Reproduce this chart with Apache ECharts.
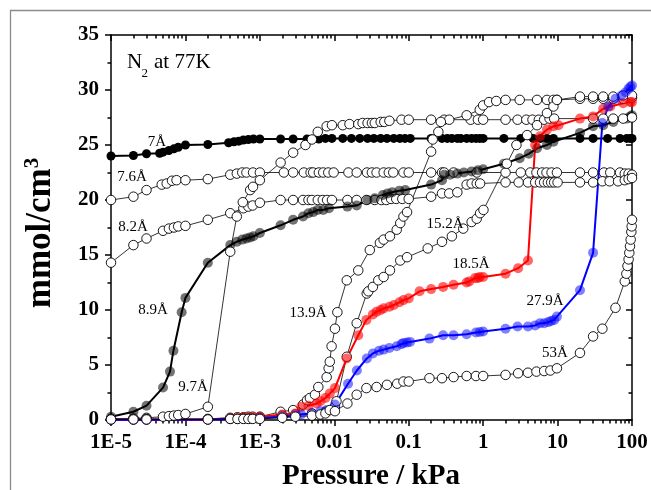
<!DOCTYPE html>
<html>
<head>
<meta charset="utf-8">
<script src="https://cdn.jsdelivr.net/npm/echarts@6/dist/echarts.min.js"></script>
<style>
html,body{margin:0;padding:0;background:#fff;}
#chart{width:651px;height:490px;}
</style>
</head>
<body>
<div id="chart"></div>
<script>
// N2 isotherms at 77 K for pores of different width: [pressure kPa, uptake mmol/cm3]
const pore7A = [[1e-5,24.0],[2e-5,24.05],[3e-5,24.2],[4.5e-5,24.25],[5e-5,24.35],[6e-5,24.5],[7e-5,24.65],[8e-5,24.8],[1e-4,25.0],[2e-4,25.05],[3.8e-4,25.2],[4.5e-4,25.3],[5.2e-4,25.35],[6e-4,25.45],[7e-4,25.5],[8.2e-4,25.55],[1e-3,25.55],[1.9e-3,25.55],[2.8e-3,25.55],[4.3e-3,25.55],[6.2e-3,25.55],[7.6e-3,25.6],[9.3e-3,25.6],[0.013,25.6],[0.017,25.6],[0.022,25.6],[0.028,25.6],[0.034,25.6],[0.042,25.6],[0.051,25.6],[0.063,25.6],[0.076,25.6],[0.089,25.6],[0.105,25.6],[0.2,25.6],[0.28,25.6],[0.33,25.6],[0.38,25.6],[0.45,25.6],[0.5,25.6],[0.6,25.6],[0.7,25.6],[0.8,25.6],[0.9,25.6],[1.0,25.6],[1.9,25.6],[3.2,25.6],[4.7,25.6],[5.9,25.6],[7.2,25.6],[8.8,25.6],[20,25.6],[30,25.6],[47,25.6],[69,25.6],[85,25.6],[95,25.6],[100,25.6]];

const pore76A = [[1e-5,20.0],[2e-5,20.3],[3e-5,20.9],[4.8e-5,21.4],[5.6e-5,21.5],[6.6e-5,21.75],[7.6e-5,21.8],[1e-4,21.8],[2e-4,21.9],[4e-4,22.3],[4.9e-4,22.4],[5.8e-4,22.5],[6.6e-4,22.5],[8.1e-4,22.5],[1e-3,22.5],[2.1e-3,22.5],[2.8e-3,22.5],[3.9e-3,22.5],[4.8e-3,22.5],[5.2e-3,22.5],[6.2e-3,22.5],[7.1e-3,22.5],[8.3e-3,22.5],[9.8e-3,22.5],[0.0155,22.5],[0.02,22.5],[0.0275,22.5],[0.032,22.5],[0.037,22.5],[0.046,22.5],[0.054,22.5],[0.062,22.5],[0.085,22.5],[0.1,22.5],[0.2,22.5],[0.28,22.5],[0.3,22.5],[0.4,22.5],[0.82,22.5],[2.0,22.5],[3.2,22.5],[4.3,22.5],[5.2,22.5],[6.2,22.5],[7.1,22.5],[8.3,22.5],[9.8,22.5],[20,22.5],[30,22.5],[42,22.5],[51,22.5],[69,22.5],[80,22.4],[90,22.4],[100,22.3]];

const pore82A = [[1e-5,14.3],[2e-5,15.9],[3e-5,16.5],[5e-5,17.2],[6e-5,17.4],[7e-5,17.5],[8e-5,17.6],[1e-4,17.65],[2e-4,18.2],[4e-4,18.8],[6e-4,19.25],[7e-4,19.4],[8e-4,19.5],[1e-3,19.75],[1.9e-3,20.0],[2.8e-3,20.0],[3.8e-3,20.0],[4.5e-3,20.0],[5e-3,20.0],[6e-3,20.0],[7e-3,20.0],[8e-3,20.0],[9.3e-3,20.0],[0.015,20.0],[0.02,20.0],[0.027,20.0],[0.035,20.0],[0.043,20.0],[0.05,20.0],[0.058,20.1],[0.068,20.1],[0.082,20.1],[0.1,20.1],[0.2,20.3],[0.28,20.6],[0.35,20.6],[0.45,20.7],[0.6,21.4],[0.7,21.5],[0.82,21.5],[0.91,21.5],[2.0,21.6],[3.0,21.6],[4.0,21.6],[5.0,21.6],[5.8,21.6],[6.6,21.6],[7.4,21.6],[8.2,21.6],[9.0,21.6],[10,21.6],[20,21.6],[30,21.6],[40,21.7],[50,21.7],[65,21.7],[80,21.8],[90,21.9],[100,22.0]];

const pore89A = [[1e-5,0.3],[2e-5,0.75],[3e-5,1.3],[5e-5,2.95],[6.2e-5,4.4],[6.9e-5,6.3],[8.9e-5,9.8],[1e-4,11.1],[2e-4,14.3],[4e-4,15.9],[4.9e-4,16.2],[5.8e-4,16.4],[6.6e-4,16.5],[7.4e-4,16.6],[8.2e-4,16.7],[1e-3,17.0],[1.9e-3,17.7],[2.8e-3,18.2],[3.8e-3,18.5],[4.5e-3,18.8],[5.2e-3,18.9],[6e-3,19.1],[7.1e-3,19.1],[8.5e-3,19.25],[0.015,19.4],[0.02,19.5],[0.028,20.0],[0.035,20.15],[0.045,20.45],[0.052,20.6],[0.06,20.7],[0.075,20.85],[0.09,20.9],[0.2,21.4],[0.28,21.8],[0.3,22.3],[0.36,22.3],[0.45,22.4],[0.55,22.5],[0.7,22.6],[0.85,22.7],[1.0,22.8],[1.9,23.3],[3.1,23.8],[4.1,24.2],[5.3,24.7],[7.2,25.0],[8.8,25.3],[20,26.1],[30,26.7],[41,26.8],[56,27.1],[85,27.4],[95,27.6],[100,27.7]];

const pore97A = [[1e-5,0.1],[2e-5,0.15],[3e-5,0.2],[5e-5,0.3],[6e-5,0.35],[7e-5,0.4],[8e-5,0.45],[1e-4,0.55],[2e-4,1.2],[4e-4,15.3],[4.9e-4,18.5],[5.9e-4,19.8],[7.4e-4,20.9],[8.1e-4,21.2],[1e-3,21.8],[1.9e-3,23.4],[2.8e-3,24.3],[4.1e-3,25.0],[5e-3,25.5],[6e-3,26.2],[7.9e-3,26.7],[9.3e-3,26.8],[0.013,26.8],[0.016,26.9],[0.021,26.9],[0.024,27.0],[0.028,27.0],[0.032,27.0],[0.035,27.0],[0.042,27.1],[0.047,27.1],[0.055,27.2],[0.08,27.3],[0.1,27.3],[0.2,27.3],[0.3,27.3],[0.35,27.3],[0.68,27.3],[0.85,27.3],[1.0,27.3],[2.0,27.3],[2.9,27.3],[3.8,27.3],[4.6,27.3],[5.6,27.3],[6.6,27.3],[7.8,27.4],[9.0,27.4],[30,27.4],[41,27.4],[56,27.4],[76,27.4],[100,27.5]];

const pore139A = [[1e-5,0.1],[2e-5,0.1],[3e-5,0.1],[2e-4,0.1],[4e-4,0.2],[5e-4,0.25],[6e-4,0.25],[7e-4,0.3],[8e-4,0.3],[1e-3,0.3],[1.9e-3,0.75],[2.8e-3,0.9],[3.8e-3,1.4],[4.3e-3,1.8],[4.7e-3,2.0],[5.5e-3,2.3],[6.1e-3,3.0],[7.9e-3,3.9],[8.4e-3,4.7],[8.7e-3,5.3],[9.2e-3,6.7],[0.0102,8.3],[0.011,9.8],[0.0147,12.7],[0.021,13.6],[0.03,15.45],[0.041,16.1],[0.046,16.4],[0.056,16.7],[0.069,17.3],[0.077,17.9],[0.085,18.5],[0.095,18.9],[0.2,24.4],[0.21,25.5],[0.25,26.2],[0.27,27.1],[0.6,27.7],[0.9,28.2],[1.0,28.6],[1.2,28.9],[1.5,29.0],[2.0,29.1],[3.1,29.1],[5.3,29.1],[7.2,29.1],[8.8,29.1],[9.8,29.1],[20,29.2],[30,29.2],[41,29.2],[56,29.2],[76,29.2],[100,29.3]];

const pore152A = [[1e-5,0.05],[2e-5,0.05],[3e-5,0.05],[2e-4,0.05],[4e-4,0.1],[5e-4,0.1],[6e-4,0.15],[7e-4,0.15],[8e-4,0.15],[1e-3,0.2],[2e-3,0.4],[3e-3,0.5],[5e-3,0.6],[7.6e-3,0.75],[0.0102,1.2],[0.0107,1.7],[0.0147,5.75],[0.02,8.8],[0.0273,11.5],[0.0287,11.7],[0.033,12.1],[0.039,12.7],[0.046,13.0],[0.056,13.6],[0.077,14.5],[0.095,14.8],[0.18,15.6],[0.28,16.2],[0.38,16.7],[0.54,17.4],[0.7,18.0],[0.82,18.3],[0.91,18.8],[1.01,19.1],[2.08,23.3],[2.8,25.0],[3.9,25.9],[5.3,26.8],[7.2,27.9],[8.8,28.5],[9.8,29.1],[20,29.4],[30,29.4],[41,29.4],[56,29.4],[76,29.5],[100,29.5]];

const pore185A = [[1e-5,0.05],[2e-5,0.05],[3e-5,0.05],[2e-4,0.05],[4e-4,0.15],[5e-4,0.2],[6e-4,0.2],[7e-4,0.25],[8e-4,0.25],[1e-3,0.3],[2e-3,0.5],[3e-3,0.6],[3.6e-3,1.2],[4.5e-3,1.3],[5.8e-3,1.5],[6.5e-3,1.7],[7.6e-3,2.0],[8.7e-3,2.4],[0.0102,2.9],[0.0147,5.6],[0.021,7.7],[0.027,9.1],[0.033,9.6],[0.037,9.85],[0.042,10.0],[0.046,10.15],[0.055,10.3],[0.063,10.45],[0.075,10.7],[0.085,10.9],[0.1,11.06],[0.14,11.7],[0.2,11.9],[0.29,12.1],[0.4,12.3],[0.6,12.5],[0.65,12.6],[0.78,12.9],[0.85,12.9],[0.9,13.0],[1.0,13.0],[2.0,13.3],[2.95,13.8],[4.0,14.5],[5.0,25.0],[5.8,25.8],[7.2,26.4],[8.8,26.7],[10.3,26.8],[20,27.4],[30,27.6],[41,28.3],[51,28.5],[76,28.8],[95,28.9],[100,28.9]];

const pore279A = [[1e-5,0.02],[2e-5,0.02],[3e-5,0.02],[2e-4,0.05],[4e-4,0.1],[5e-4,0.1],[6e-4,0.1],[7e-4,0.12],[8e-4,0.12],[1e-3,0.15],[2e-3,0.3],[3e-3,0.4],[3.6e-3,0.5],[5e-3,0.6],[6.5e-3,0.8],[7.9e-3,0.9],[0.0102,1.4],[0.0153,3.3],[0.0201,4.5],[0.0274,5.6],[0.033,6.05],[0.04,6.3],[0.046,6.4],[0.055,6.55],[0.069,6.7],[0.08,6.9],[0.085,7.0],[0.095,7.05],[0.104,7.1],[0.19,7.4],[0.29,7.7],[0.4,7.7],[0.6,7.8],[0.8,7.95],[0.9,8.0],[1.0,8.05],[2.0,8.3],[2.9,8.5],[4.0,8.5],[5.0,8.6],[5.8,8.8],[6.6,8.8],[7.5,8.9],[8.2,9.0],[9.0,9.1],[9.8,9.4],[20,11.8],[30,15.2],[40,27.0],[48,28.5],[60,29.2],[72,29.5],[82,29.8],[90,30.1],[95,30.3],[100,30.4]];

const pore53A = [[1e-5,0.05],[2e-5,0.05],[3e-5,0.05],[2e-4,0.05],[4e-4,0.1],[5e-4,0.1],[6e-4,0.1],[7e-4,0.1],[8e-4,0.1],[1e-3,0.1],[2e-3,0.2],[3e-3,0.3],[5e-3,0.4],[6.5e-3,0.5],[7.6e-3,0.6],[8.7e-3,0.9],[0.0102,0.8],[0.015,1.5],[0.02,2.3],[0.027,2.9],[0.037,3.0],[0.051,3.2],[0.07,3.3],[0.085,3.5],[0.1,3.5],[0.19,3.8],[0.28,3.8],[0.4,3.9],[0.6,4.0],[0.8,4.0],[1.0,4.0],[2.0,4.1],[2.95,4.25],[4.0,4.3],[5.2,4.4],[6.6,4.45],[8.0,4.5],[9.8,4.7],[20,6.1],[30,7.6],[40,8.3],[60,10.2],[80,12.6],[84,13.3],[87,14.0],[90,14.6],[92,15.2],[94,15.8],[96,16.4],[98,17.1],[99,17.6],[100,18.2]];

// axis ticks and labels
const xTickLabels = ['1E-5', '1E-4', '1E-3', '0.01', '0.1', '1', '10', '100'];
const yTicks = [0, 5, 10, 15, 20, 25, 30, 35];

const SERIF = "'Liberation Serif', 'Times New Roman', serif";

const xMinorTicks = [];
for (let e = -5; e < 2; e++) {
  for (let k = 2; k <= 9; k++) xMinorTicks.push(+(k * Math.pow(10, e)).toPrecision(3));
}

const chart = echarts.init(document.getElementById('chart'), null, { renderer: 'canvas' });

const black = { color: '#000', width: 1.5 };

function logAxis(position, opts) {
  return Object.assign({
    type: 'log', logBase: 10, min: 1e-5, max: 100, splitNumber: 7,
    position: position,
    axisLine: { show: false, onZero: false, lineStyle: black },
    axisTick: { show: true, lineStyle: black },
    axisLabel: { show: false },
    splitLine: { show: false },
    minorTick: { show: false },
    minorSplitLine: { show: false }
  }, opts);
}

function valueAxis(position, opts) {
  return Object.assign({
    type: 'value', min: yTicks[0], max: yTicks[yTicks.length - 1], interval: 5,
    position: position,
    axisLine: { show: true, onZero: false, lineStyle: black },
    axisTick: { show: true, length: 6, lineStyle: black },
    minorTick: { show: true, splitNumber: 2, length: 3.5, lineStyle: black },
    splitLine: { show: false },
    minorSplitLine: { show: false },
    axisLabel: { show: false }
  }, opts);
}

function openSeries(name, data) {
  return {
    name, type: 'line', data, xAxisIndex: 0, yAxisIndex: 0,
    symbol: 'circle', symbolSize: 9.5,
    itemStyle: { color: '#fff', borderColor: '#000', borderWidth: 0.9 },
    lineStyle: { color: '#000', width: 0.8 },
    emphasis: { disabled: true }, animation: false
  };
}

function filledSeries(name, data, fill, lineColor, size) {
  return {
    name, type: 'line', data, xAxisIndex: 0, yAxisIndex: 0,
    symbol: 'circle', symbolSize: size,
    itemStyle: { color: fill, borderWidth: 0 },
    lineStyle: { color: lineColor, width: 2 },
    emphasis: { disabled: true }, animation: false
  };
}

const labelFont = '15px ' + SERIF;
function note(text, x, y) {
  return { type: 'text', x, y, z: 100, style: { text, font: labelFont, fill: '#000', align: 'center', verticalAlign: 'middle' } };
}

chart.setOption({
  animation: false,
  backgroundColor: '#fff',
  grid: { left: 111, right: 19, top: 35, bottom: 70, containLabel: false, outerBoundsMode: 'none' },
  xAxis: [
    logAxis('bottom', {
      axisLine: { show: true, onZero: false, lineStyle: black },
      axisTick: { show: true, length: 6, lineStyle: black },
      axisLabel: {
        show: true, margin: 12, color: '#000', fontFamily: SERIF, fontWeight: 'bold', fontSize: 21,
        formatter: v => xTickLabels[Math.round(Math.log10(v)) + 5]
      }
    }),
    logAxis('bottom', { axisTick: { show: true, length: 3.5, lineStyle: black, customValues: xMinorTicks } }),
    logAxis('top', {
      axisLine: { show: true, onZero: false, lineStyle: black },
      axisTick: { show: true, inside: true, length: 6, lineStyle: black }
    }),
    logAxis('top', { axisTick: { show: true, inside: true, length: 3.5, lineStyle: black, customValues: xMinorTicks } })
  ],
  yAxis: [
    valueAxis('left', {
      axisLabel: { show: true, margin: 12, color: '#000', fontFamily: SERIF, fontWeight: 'bold', fontSize: 21 }
    }),
    valueAxis('right', {
      axisTick: { show: true, inside: true, length: 6, lineStyle: black },
      minorTick: { show: true, splitNumber: 2, length: 3.5, lineStyle: black }
    })
  ],
  series: [
    filledSeries('7Å', pore7A, '#000', '#000', 9),
    openSeries('7.6Å', pore76A),
    openSeries('8.2Å', pore82A),
    filledSeries('8.9Å', pore89A, 'rgba(0,0,0,0.55)', '#000', 10),
    openSeries('9.7Å', pore97A),
    openSeries('13.9Å', pore139A),
    openSeries('15.2Å', pore152A),
    filledSeries('18.5Å', pore185A, 'rgba(255,0,0,0.6)', '#ff0000', 10),
    filledSeries('27.9Å', pore279A, 'rgba(0,0,255,0.5)', '#0000ff', 10),
    openSeries('53Å', pore53A)
  ],
  graphic: [
    { type: 'polyline', z: 0, shape: { points: [[10.5, 490], [10.5, 10.5], [651, 10.5]] }, style: { stroke: '#8c8c8c', lineWidth: 1.3, fill: null } },
    { type: 'text', x: 127, y: 62.5, z: 100, style: { text: 'N', font: '21px ' + SERIF, fill: '#000', align: 'left', verticalAlign: 'middle' } },
    { type: 'text', x: 141.5, y: 74, z: 100, style: { text: '2', font: '13px ' + SERIF, fill: '#000', align: 'left', verticalAlign: 'middle' } },
    { type: 'text', x: 154, y: 62.5, z: 100, style: { text: 'at 77K', font: '21px ' + SERIF, fill: '#000', align: 'left', verticalAlign: 'middle' } },
    note('7Å', 157, 142),
    note('7.6Å', 132, 177),
    note('8.2Å', 133, 227),
    note('8.9Å', 153, 310),
    note('9.7Å', 193, 387),
    note('13.9Å', 308, 313),
    note('15.2Å', 445, 224),
    note('18.5Å', 471, 264),
    note('27.9Å', 545, 301),
    note('53Å', 555, 353),
    { type: 'text', x: 371, y: 477, z: 100, style: { text: 'Pressure / kPa', font: 'bold 29px ' + SERIF, fill: '#000', align: 'center', verticalAlign: 'middle' } },
    {
      type: 'text', x: 41, y: 233, rotation: Math.PI / 2, z: 100,
      style: {
        text: '{m|mmol/cm}{s|3}', fill: '#000', align: 'center', verticalAlign: 'middle',
        rich: {
          m: { fontFamily: SERIF, fontWeight: 'bold', fontSize: 35, lineHeight: 38 },
          s: { fontFamily: SERIF, fontWeight: 'bold', fontSize: 21, lineHeight: 23, verticalAlign: 'top' }
        }
      }
    }
  ]
});
</script>
</body>
</html>
